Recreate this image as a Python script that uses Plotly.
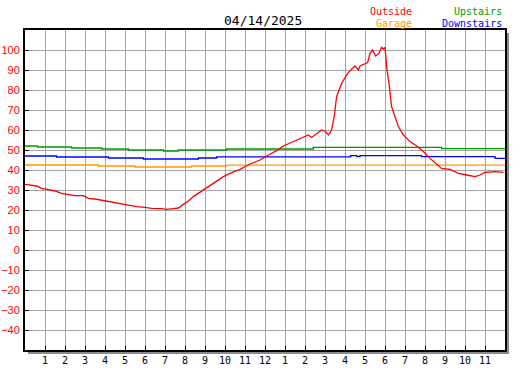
import plotly.graph_objects as go

# ---- data (hours since midnight, temperatures) ----
outside_hours = [0, 0.33, 0.58, 0.83, 1.17, 1.5, 1.83, 2.17, 2.5, 2.92, 3.17, 3.5, 3.92, 4.33,
                 4.83, 5.58, 6.0, 6.33, 6.83, 7.08, 7.42, 7.67, 7.92, 8.17, 8.42, 8.92, 9.42,
                 9.92, 10.25, 10.75, 11.25, 11.75, 12.17, 12.58, 12.92, 13.42, 13.83, 14.17,
                 14.33, 14.58, 14.83, 15.0, 15.17, 15.33, 15.47, 15.58, 15.7, 15.83, 16.08,
                 16.25, 16.5, 16.67, 16.75, 17.0, 17.13, 17.25, 17.38, 17.53, 17.7, 17.83,
                 17.92, 18.0, 18.1, 18.2, 18.33, 18.5, 18.67, 18.92, 19.25, 19.58, 19.92,
                 20.25, 20.58, 20.83, 21.25, 21.67, 22.08, 22.5, 22.75, 23.0, 23.5, 23.92]
outside_temps = [32.8, 32.5, 32, 30.8, 30, 29.5, 28.3, 27.8, 27.2, 27.2, 25.8, 25.5, 24.7, 23.8,
                 22.8, 21.7, 21.3, 20.8, 20.7, 20.3, 20.7, 21, 22.8, 24.5, 26.7, 30, 33.3,
                 36.7, 38.3, 40.3, 43, 45, 47.5, 49.7, 52, 54.2, 56.3, 57.5,
                 56.3, 58, 60, 59.5, 57.5, 60, 67.5, 76.7, 80, 83.3, 87.5,
                 89.7, 92, 90, 92, 93, 93.7, 98.3, 100, 97, 98.3, 101.3,
                 100.5, 101.3, 90, 83.3, 71.7, 66.7, 61.7, 57.5, 54.2, 52, 49.2,
                 45.8, 43, 40.8, 40.3, 38.3, 37.5, 36.7, 37.5, 38.8, 39.2, 38.8]

upstairs_hours = [0, 0.63, 2.33, 3.83, 5.17, 6.92, 7.67, 10.08, 14.42, 20.83, 24]
upstairs_temps = [52, 51.5, 51, 50.5, 50, 49.5, 50, 50.5, 51.3, 50.7, 50.7]

downstairs_hours = [0, 1.58, 4.17, 5.92, 8.67, 9.58, 16.28, 16.6, 16.75, 19.83, 23.5, 24]
downstairs_temps = [47, 46.5, 46, 45.5, 46, 46.6, 47.2, 46.7, 47.2, 46.7, 45.8, 45.8]

garage_hours = [0, 3.67, 5.5, 8.33, 10.08, 24]
garage_temps = [42.5, 42, 41.5, 42, 42.4, 42.4]

hour_ticks = list(range(1, 24))
hour_labels = [str(h) for h in range(1, 13)] + [str(h) for h in range(1, 12)]
temp_ticks = list(range(-40, 101, 10))

title_text = "04/14/2025"

RED = "#ff0000"
ORANGE = "#ff9900"
GREEN = "#009900"
BLUE = "#0000ff"

fig = go.Figure()
fig.add_trace(go.Scatter(x=garage_hours, y=garage_temps, mode="lines",
                         line=dict(color=ORANGE, width=1.3, shape="hv"), hoverinfo="skip"))
fig.add_trace(go.Scatter(x=downstairs_hours, y=downstairs_temps, mode="lines",
                         line=dict(color=BLUE, width=1.3, shape="hv"), hoverinfo="skip"))
fig.add_trace(go.Scatter(x=upstairs_hours, y=upstairs_temps, mode="lines",
                         line=dict(color=GREEN, width=1.3, shape="hv"), hoverinfo="skip"))
fig.add_trace(go.Scatter(x=outside_hours, y=outside_temps, mode="lines",
                         line=dict(color=RED, width=1.3), hoverinfo="skip"))

W, H = 480, 320  # plot area size in px

def px(xp):
    return (xp - 25) / W

def py(yp):
    return (350 - yp) / H

mono = "DejaVu Sans Mono"
ann = [
    dict(text=title_text, x=px(262.5), y=py(20), xanchor="center", yanchor="middle",
         font=dict(family=mono, size=13, color="black")),
    dict(text="Outside", x=px(413.5), y=py(11.5), xanchor="right", yanchor="middle",
         font=dict(family=mono, size=10, color=RED)),
    dict(text="Garage", x=px(413.5), y=py(23.5), xanchor="right", yanchor="middle",
         font=dict(family=mono, size=10, color=ORANGE)),
    dict(text="Upstairs", x=px(503.5), y=py(11.5), xanchor="right", yanchor="middle",
         font=dict(family=mono, size=10, color=GREEN)),
    dict(text="Downstairs", x=px(503.5), y=py(23.5), xanchor="right", yanchor="middle",
         font=dict(family=mono, size=10, color=BLUE)),
]
for a in ann:
    a.update(xref="paper", yref="paper", showarrow=False)

shadow = "#8a8a8a"
shapes = [
    dict(type="line", xref="paper", yref="paper", x0=1 + 3 / W, x1=1 + 3 / W,
         y0=1 - 3 / H, y1=-3.5 / H, line=dict(color=shadow, width=2)),
    dict(type="line", xref="paper", yref="paper", x0=3 / W, x1=1 + 4 / W,
         y0=-3 / H, y1=-3 / H, line=dict(color=shadow, width=2)),
]

fig.update_layout(
    width=527, height=370,
    margin=dict(l=25, r=22, t=30, b=20, autoexpand=False),
    paper_bgcolor="white", plot_bgcolor="white",
    showlegend=False,
    annotations=ann,
    shapes=shapes,
    xaxis=dict(range=[0, 24], tickvals=hour_ticks, ticktext=hour_labels,
               showgrid=True, gridcolor="#a4a4a4", gridwidth=1,
               ticks="inside", ticklen=4, tickcolor="black", tickwidth=1,
               showline=True, linecolor="black", linewidth=2, mirror=True,
               zeroline=False, fixedrange=True, automargin=False,
               tickfont=dict(family=mono, size=10, color="black")),
    yaxis=dict(range=[-50, 110], tickvals=temp_ticks,
               showgrid=True, gridcolor="#a4a4a4", gridwidth=1,
               ticks="inside", ticklen=4, tickcolor="black", tickwidth=1,
               showline=True, linecolor="black", linewidth=2, mirror=True,
               zeroline=False, fixedrange=True, automargin=False,
               ticklabelstandoff=1,
               tickfont=dict(family="Liberation Sans", size=11, color=RED)),
)

fig.write_html("out.html", config=dict(displayModeBar=False),
               post_script="document.body.style.margin='0';document.body.style.padding='0';")
